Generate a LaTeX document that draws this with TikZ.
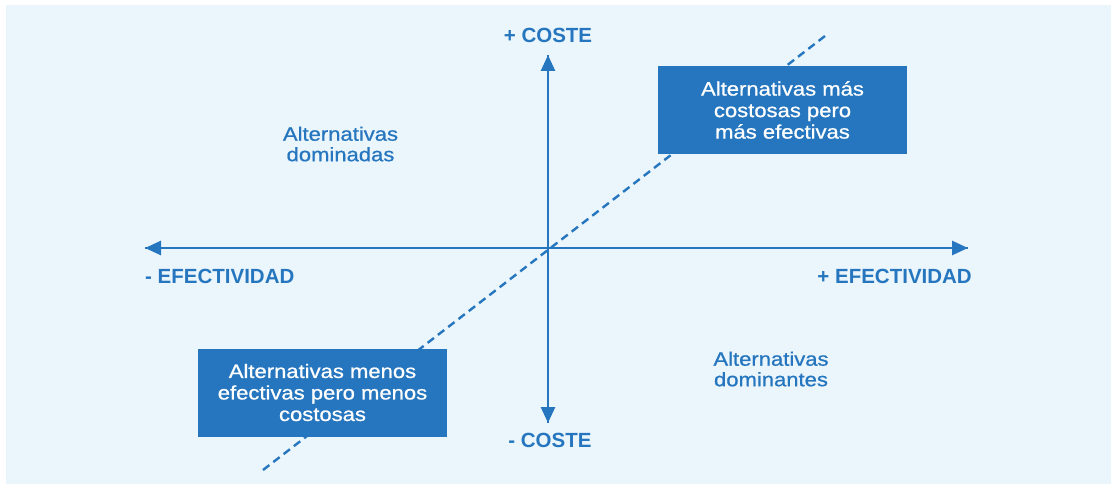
\documentclass[tikz,border=0pt]{standalone}
\usepackage{fontspec}
\setmainfont{Liberation Sans}
\newfontfamily\bodyfont{Liberation Sans}[FakeStretch=1.13,FakeBold=0.8]
\newfontfamily\axisfont{Liberation Sans Bold}
\usetikzlibrary{arrows.meta}
\definecolor{bgblue}{RGB}{235,246,252}
\definecolor{mainblue}{RGB}{37,118,190}
\tikzset{
  axisline/.style={draw=mainblue, line width=2.6pt, -{Triangle[width=14pt,length=16pt]}},
  diagline/.style={draw=mainblue, line width=2.4pt, dash pattern=on 8pt off 5pt},
  quadbox/.style={fill=mainblue, text=white, minimum width=249pt, minimum height=88pt,
    inner sep=0pt, align=center, font=\bodyfont\fontsize{19.5}{21.5}\selectfont},
  axislabel/.style={text=mainblue, inner sep=0pt, font=\axisfont\fontsize{20.5}{22}\selectfont},
  quadlabel/.style={text=mainblue, inner sep=0pt, align=center, font=\bodyfont\fontsize{19.5}{20.5}\selectfont}
}
\begin{document}
\begin{tikzpicture}[x=1pt,y=-1pt]
\useasboundingbox (0,0) rectangle (1115,484);
\fill[bgblue] (6,5) rectangle (1111,484);
% axes
\coordinate (L) at (145,248);
\coordinate (R) at (968,248);
\coordinate (T) at (548,55);
\coordinate (B) at (548,423);
\coordinate (D1) at (263,470);
\coordinate (D2) at (825,36);
\draw[diagline] (D1) -- (D2);
\draw[axisline] (B) -- (T);
\draw[axisline] (T) -- (B);
\draw[axisline] (R) -- (L);
\draw[axisline] (L) -- (R);
% boxes
\node[quadbox] (box1) at (782.5,110) {Alternativas más\\costosas pero\\más efectivas};
\node[quadbox] (box2) at (322.5,392.5) {Alternativas menos\\efectivas pero menos\\costosas};
% labels
\node[axislabel] (costeplus) at (548,35) {+ COSTE};
\node[axislabel] (costeminus) at (550,440) {- COSTE};
\node[axislabel, anchor=west] (efminus) at (145,276.5) {- EFECTIVIDAD};
\node[axislabel, anchor=east] (efplus) at (972,276.5) {+ EFECTIVIDAD};
\node[quadlabel] (dominadas) at (340.5,144) {Alternativas\\dominadas};
\node[quadlabel] (dominantes) at (771,369) {Alternativas\\dominantes};
\end{tikzpicture}
\end{document}
